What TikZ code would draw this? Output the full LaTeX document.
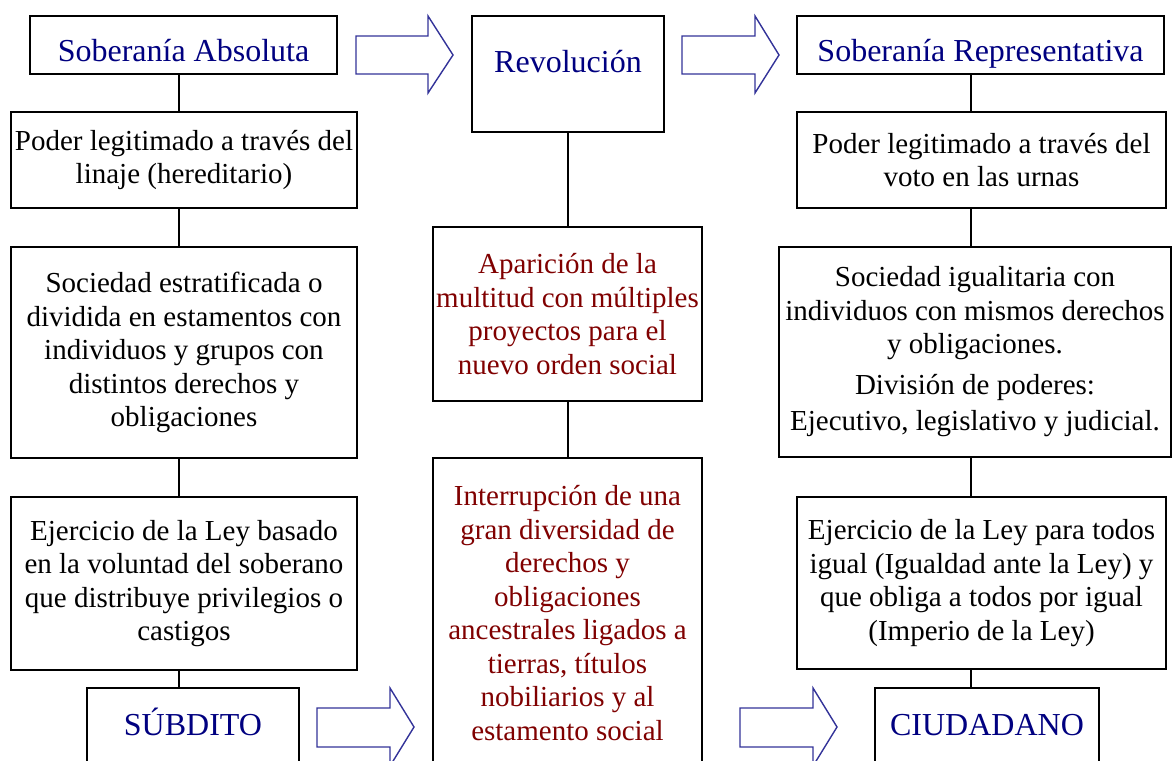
\documentclass[tikz,border=0pt]{standalone}
\usepackage{fontspec}
\setmainfont{Liberation Serif}
\definecolor{navytxt}{HTML}{000080}
\definecolor{redtxt}{HTML}{800000}
\definecolor{arrowblue}{HTML}{333399}
\begin{document}
\begin{tikzpicture}[x=1pt,y=-1pt,
  box/.style={draw=black, line width=1.6pt, fill=white, align=center, inner xsep=2pt, inner ysep=0pt,
    font=\fontsize{29}{33.5}\selectfont},
  tbox/.style={draw=black, line width=1.6pt, fill=white, align=center, inner sep=0pt,
    text=navytxt, font=\fontsize{32}{38}\selectfont, anchor=base},
  redbox/.style={box, text=redtxt},
  bigarrow/.style={draw=arrowblue, line width=1.4pt, fill=white, line join=miter},
  link/.style={draw=black, line width=1.6pt}
]
\useasboundingbox (0,0) rectangle (1172,760);
\clip (0,0) rectangle (1172,760);
\fill[white] (0,0) rectangle (1172,760);

% left column
\node[tbox, minimum width=307pt, text height=46pt, text depth=12pt] (sa) at (183.5,62) {Soberanía Absoluta};
\node[box, minimum width=346pt, minimum height=96pt] (pl) at (184,160) {Poder legitimado a través del\\linaje (hereditario)};
\node[box, minimum width=346pt, minimum height=211pt] (sl) at (184,352.5) {Sociedad estratificada o\\dividida en estamentos con\\individuos y grupos con\\distintos derechos y\\obligaciones};
\node[box, minimum width=346pt, minimum height=173pt] (el) at (184,583.5) {Ejercicio de la Ley basado\\en la voluntad del soberano\\que distribuye privilegios o\\castigos};
\node[tbox, minimum width=212pt, text height=47pt, text depth=35pt] (su) at (193,735) {SÚBDITO};

% middle column
\node[tbox, minimum width=192pt, text height=57pt, text depth=59pt] (rev) at (568,73) {Revolución};
\node[redbox, minimum width=269pt, minimum height=174pt] (ap) at (567.5,314) {Aparición de la\\multitud con múltiples\\proyectos para el\\nuevo orden social};
\node[redbox, minimum width=269pt, minimum height=310pt] (in) at (567.5,613) {Interrupción de una\\gran diversidad de\\derechos y\\obligaciones\\ancestrales ligados a\\tierras, títulos\\nobiliarios y al\\estamento social};

% right column
\node[tbox, minimum width=367pt, text height=46pt, text depth=12pt] (sr) at (980.5,62) {Soberanía Representativa};
\node[box, minimum width=369pt, minimum height=96pt] (pr) at (981.5,160) {Poder legitimado a través del\\voto en las urnas};
\node[box, minimum width=392pt, minimum height=210pt, inner xsep=0pt] (srr) at (975,352) {Sociedad igualitaria con\\individuos con mismos derechos\\y obligaciones.\\[7pt]División de poderes:\\[3pt]Ejecutivo, legislativo y judicial.};
\node[box, minimum width=369pt, minimum height=172pt] (er) at (981.5,583) {Ejercicio de la Ley para todos\\igual (Igualdad ante la Ley) y\\que obliga a todos por igual\\(Imperio de la Ley)};
\node[tbox, minimum width=224pt, text height=47pt, text depth=35pt] (ci) at (987,735) {CIUDADANO};

% connector columns
\coordinate (lx) at (179,0);
\coordinate (mx) at (568,0);
\coordinate (rx) at (971,0);

\draw[link] (sa.south -| lx) -- (pl.north -| lx);
\draw[link] (pl.south -| lx) -- (sl.north -| lx);
\draw[link] (sl.south -| lx) -- (el.north -| lx);
\draw[link] (el.south -| lx) -- (su.north -| lx);

\draw[link] (rev.south -| mx) -- (ap.north -| mx);
\draw[link] (ap.south -| mx) -- (in.north -| mx);

\draw[link] (sr.south -| rx) -- (pr.north -| rx);
\draw[link] (pr.south -| rx) -- (srr.north -| rx);
\draw[link] (srr.south -| rx) -- (er.north -| rx);
\draw[link] (er.south -| rx) -- (ci.north -| rx);

% big block arrows
\draw[bigarrow] (356,36) -- (428,36) -- (428,16) -- (453,55) -- (428,93) -- (428,74) -- (356,74) -- cycle;
\draw[bigarrow] (682,36) -- (755,36) -- (755,16) -- (779,55) -- (755,93) -- (755,74) -- (682,74) -- cycle;
\draw[bigarrow] (317,708) -- (390,708) -- (390,688) -- (414,727) -- (390,766) -- (390,747) -- (317,747) -- cycle;
\draw[bigarrow] (740,708) -- (813,708) -- (813,688) -- (837,727) -- (813,766) -- (813,747) -- (740,747) -- cycle;
\end{tikzpicture}
\end{document}
